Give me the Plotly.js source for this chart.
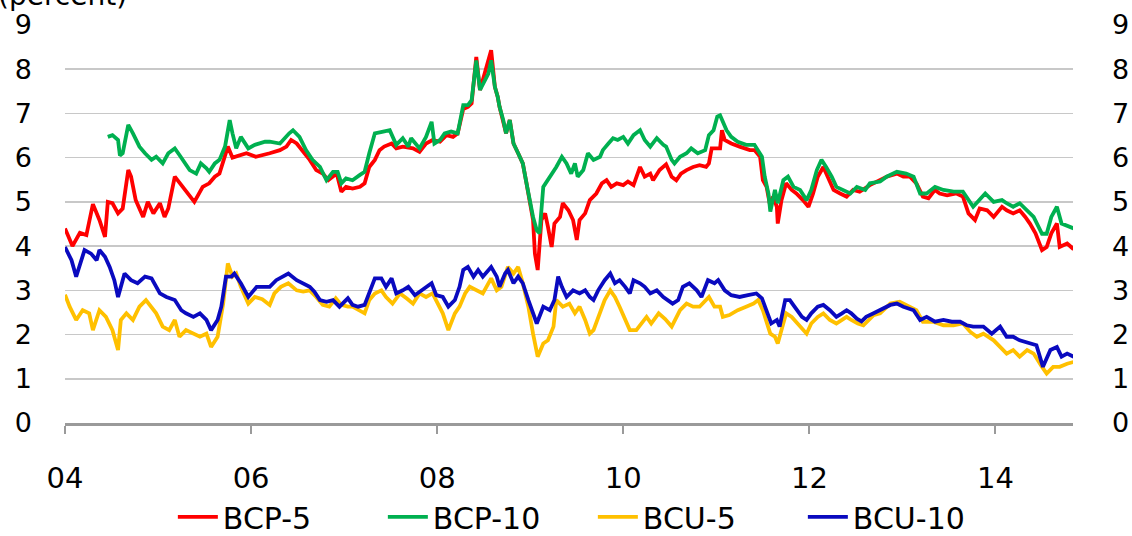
<!DOCTYPE html>
<html>
<head>
<meta charset="utf-8">
<script src="https://cdn.plot.ly/plotly-3.0.1.min.js"></script>
<style>html,body{margin:0;padding:0;background:#fff;overflow:hidden;}#chart{width:1132px;height:560px;}</style>
</head>
<body>
<div id="chart"></div>
<script>
// ---- Data (decimal years, percent) ----
const bcp5T = [2004.00,2004.08,2004.16,2004.23,2004.30,2004.37,2004.43,2004.46,2004.51,2004.57,2004.62,2004.68,2004.71,2004.76,2004.84,2004.89,2004.95,2005.02,2005.07,2005.11,2005.18,2005.27,2005.39,2005.48,2005.55,2005.61,2005.66,2005.75,2005.80,2005.95,2006.05,2006.20,2006.31,2006.38,2006.43,2006.49,2006.56,2006.63,2006.70,2006.77,2006.83,2006.88,2006.92,2006.97,2007.02,2007.09,2007.17,2007.22,2007.27,2007.33,2007.38,2007.43,2007.51,2007.56,2007.63,2007.74,2007.81,2007.88,2007.95,2008.03,2008.10,2008.17,2008.22,2008.28,2008.33,2008.37,2008.40,2008.42,2008.46,2008.51,2008.55,2008.58,2008.62,2008.65,2008.67,2008.71,2008.74,2008.78,2008.82,2008.87,2008.92,2008.96,2008.99,2009.03,2009.05,2009.08,2009.12,2009.16,2009.19,2009.23,2009.26,2009.32,2009.35,2009.41,2009.46,2009.50,2009.53,2009.59,2009.64,2009.71,2009.77,2009.82,2009.87,2009.93,2010.00,2010.05,2010.11,2010.18,2010.23,2010.29,2010.32,2010.39,2010.46,2010.52,2010.57,2010.62,2010.68,2010.75,2010.82,2010.89,2010.92,2010.95,2011.04,2011.06,2011.09,2011.16,2011.25,2011.36,2011.41,2011.47,2011.50,2011.54,2011.58,2011.61,2011.65,2011.66,2011.70,2011.75,2011.81,2011.86,2011.93,2011.99,2012.04,2012.09,2012.15,2012.20,2012.26,2012.33,2012.40,2012.47,2012.54,2012.65,2012.76,2012.83,2012.94,2013.01,2013.08,2013.15,2013.22,2013.28,2013.35,2013.40,2013.48,2013.58,2013.65,2013.71,2013.78,2013.83,2013.91,2013.98,2014.07,2014.12,2014.19,2014.26,2014.32,2014.37,2014.43,2014.50,2014.55,2014.60,2014.66,2014.69,2014.77,2014.84];
const bcp5V = [4.40,4.00,4.30,4.25,4.95,4.59,4.21,5.00,4.97,4.74,4.85,5.72,5.57,5.04,4.66,5.00,4.74,4.97,4.66,4.85,5.57,5.34,5.00,5.34,5.42,5.57,5.64,6.25,6.00,6.10,6.02,6.10,6.17,6.25,6.40,6.32,6.13,5.95,5.72,5.64,5.49,5.57,5.64,5.23,5.34,5.30,5.34,5.42,5.79,5.95,6.17,6.25,6.32,6.21,6.25,6.21,6.13,6.32,6.40,6.36,6.51,6.47,6.55,7.10,7.15,7.23,7.90,8.28,7.53,7.90,8.13,8.43,7.60,7.38,7.15,6.85,6.55,6.85,6.32,6.10,5.87,5.42,5.04,4.59,3.83,3.46,4.59,4.74,4.44,3.98,4.51,4.66,4.97,4.81,4.59,4.14,4.59,4.74,5.04,5.19,5.42,5.49,5.34,5.42,5.38,5.46,5.38,5.79,5.57,5.64,5.49,5.72,5.85,5.57,5.49,5.64,5.72,5.79,5.83,5.79,5.87,6.21,6.21,6.62,6.40,6.32,6.25,6.17,6.17,6.02,5.49,5.34,4.89,5.12,4.89,4.51,5.04,5.42,5.27,5.19,5.04,4.89,5.19,5.57,5.79,5.57,5.27,5.19,5.12,5.27,5.23,5.38,5.49,5.57,5.64,5.57,5.57,5.42,5.12,5.08,5.27,5.19,5.15,5.19,5.12,4.74,4.59,4.85,4.81,4.66,4.89,4.81,4.74,4.81,4.66,4.51,4.29,3.91,3.98,4.29,4.51,3.98,4.06,3.93];

const bcp10T = [2004.46,2004.51,2004.57,2004.59,2004.62,2004.68,2004.73,2004.80,2004.86,2004.93,2004.98,2005.05,2005.11,2005.18,2005.23,2005.29,2005.34,2005.41,2005.46,2005.52,2005.55,2005.61,2005.66,2005.72,2005.77,2005.80,2005.84,2005.89,2005.97,2006.04,2006.15,2006.20,2006.31,2006.41,2006.45,2006.52,2006.59,2006.66,2006.74,2006.81,2006.88,2006.93,2006.97,2007.02,2007.09,2007.17,2007.22,2007.27,2007.33,2007.42,2007.49,2007.56,2007.63,2007.69,2007.72,2007.81,2007.88,2007.94,2007.97,2008.03,2008.08,2008.15,2008.22,2008.28,2008.33,2008.37,2008.40,2008.42,2008.46,2008.51,2008.55,2008.58,2008.62,2008.65,2008.67,2008.71,2008.74,2008.78,2008.82,2008.87,2008.92,2008.96,2008.99,2009.03,2009.07,2009.10,2009.14,2009.19,2009.28,2009.34,2009.39,2009.44,2009.48,2009.51,2009.57,2009.62,2009.68,2009.75,2009.78,2009.84,2009.89,2009.94,2010.00,2010.05,2010.11,2010.18,2010.23,2010.29,2010.36,2010.43,2010.46,2010.52,2010.55,2010.61,2010.68,2010.73,2010.80,2010.88,2010.92,2010.97,2011.01,2011.04,2011.11,2011.16,2011.23,2011.32,2011.41,2011.49,2011.52,2011.56,2011.58,2011.63,2011.66,2011.72,2011.77,2011.83,2011.90,2011.97,2012.02,2012.08,2012.13,2012.18,2012.24,2012.29,2012.36,2012.44,2012.51,2012.60,2012.65,2012.76,2012.83,2012.94,2013.04,2013.12,2013.19,2013.26,2013.35,2013.44,2013.55,2013.65,2013.76,2013.89,2013.98,2014.07,2014.12,2014.19,2014.26,2014.34,2014.41,2014.50,2014.55,2014.60,2014.66,2014.71,2014.78,2014.84];
const bcp10V = [6.47,6.51,6.40,6.05,6.10,6.74,6.55,6.25,6.10,5.95,6.02,5.87,6.10,6.21,6.06,5.87,5.72,5.64,5.87,5.76,5.68,5.87,5.95,6.25,6.85,6.55,6.21,6.47,6.21,6.29,6.36,6.36,6.32,6.55,6.62,6.47,6.17,5.95,5.79,5.49,5.68,5.68,5.42,5.53,5.49,5.61,5.68,6.10,6.55,6.59,6.62,6.29,6.44,6.25,6.44,6.21,6.47,6.81,6.32,6.40,6.55,6.59,6.55,7.19,7.19,7.30,7.90,8.20,7.53,7.75,7.90,8.20,7.60,7.38,7.15,6.85,6.55,6.85,6.32,6.10,5.87,5.42,5.04,4.66,4.36,4.29,5.34,5.49,5.79,6.02,5.87,5.64,5.87,5.57,5.72,6.10,5.95,6.02,6.17,6.32,6.44,6.40,6.47,6.32,6.51,6.62,6.40,6.25,6.44,6.29,6.25,5.95,5.87,6.02,6.10,6.21,6.10,6.17,6.51,6.62,6.93,6.96,6.62,6.47,6.36,6.29,6.29,6.02,5.57,5.19,4.78,5.27,4.97,5.49,5.57,5.34,5.27,5.04,5.27,5.72,5.95,5.79,5.57,5.34,5.27,5.19,5.34,5.27,5.42,5.46,5.57,5.68,5.64,5.57,5.19,5.19,5.34,5.27,5.23,5.23,4.89,5.19,5.00,5.04,4.97,4.89,4.97,4.81,4.66,4.28,4.28,4.66,4.89,4.51,4.44,4.40];

const bcu5T = [2004.00,2004.05,2004.12,2004.19,2004.26,2004.30,2004.37,2004.44,2004.51,2004.57,2004.60,2004.66,2004.73,2004.80,2004.87,2004.98,2005.05,2005.12,2005.18,2005.23,2005.30,2005.38,2005.45,2005.52,2005.57,2005.64,2005.70,2005.75,2005.80,2005.84,2005.89,2005.97,2006.04,2006.12,2006.20,2006.25,2006.32,2006.40,2006.49,2006.56,2006.63,2006.70,2006.77,2006.84,2006.91,2006.97,2007.04,2007.09,2007.17,2007.22,2007.27,2007.33,2007.40,2007.45,2007.52,2007.60,2007.67,2007.74,2007.81,2007.88,2007.95,2008.06,2008.12,2008.19,2008.24,2008.30,2008.35,2008.42,2008.49,2008.58,2008.64,2008.69,2008.76,2008.82,2008.87,2008.92,2008.98,2009.03,2009.08,2009.14,2009.19,2009.25,2009.28,2009.35,2009.42,2009.48,2009.53,2009.59,2009.64,2009.68,2009.75,2009.80,2009.86,2009.91,2009.96,2010.02,2010.07,2010.14,2010.20,2010.25,2010.30,2010.38,2010.45,2010.52,2010.61,2010.68,2010.75,2010.82,2010.92,2010.98,2011.04,2011.07,2011.14,2011.23,2011.32,2011.40,2011.45,2011.50,2011.58,2011.63,2011.66,2011.75,2011.81,2011.90,2011.97,2012.02,2012.09,2012.15,2012.22,2012.29,2012.35,2012.40,2012.45,2012.52,2012.58,2012.69,2012.76,2012.87,2012.97,2013.08,2013.15,2013.22,2013.33,2013.44,2013.55,2013.65,2013.73,2013.80,2013.87,2013.98,2014.05,2014.12,2014.19,2014.26,2014.34,2014.41,2014.50,2014.55,2014.62,2014.69,2014.77,2014.84];
const bcu5V = [2.90,2.63,2.33,2.55,2.48,2.10,2.55,2.40,2.10,1.65,2.33,2.48,2.33,2.63,2.78,2.48,2.18,2.10,2.33,1.95,2.10,2.02,1.95,2.02,1.72,1.95,2.70,3.61,3.31,3.38,3.08,2.70,2.85,2.80,2.67,2.93,3.08,3.16,3.00,2.97,3.00,2.85,2.67,2.63,2.82,2.67,2.63,2.63,2.55,2.48,2.78,2.93,3.00,2.85,2.70,2.93,2.82,2.70,2.93,2.85,2.93,2.48,2.10,2.48,2.63,2.93,3.08,3.00,2.93,3.27,3.00,3.08,3.53,3.38,3.53,3.16,2.63,2.02,1.50,1.80,1.87,2.18,2.78,2.63,2.70,2.48,2.63,2.33,2.02,2.10,2.48,2.78,3.00,2.85,2.63,2.33,2.10,2.10,2.25,2.40,2.25,2.48,2.35,2.18,2.55,2.70,2.63,2.63,2.85,2.63,2.63,2.40,2.44,2.55,2.63,2.70,2.78,2.55,2.02,1.95,1.80,2.48,2.40,2.18,2.02,2.25,2.40,2.48,2.33,2.25,2.33,2.40,2.33,2.25,2.21,2.44,2.48,2.70,2.74,2.63,2.55,2.29,2.29,2.21,2.21,2.25,2.06,1.95,2.02,1.87,1.72,1.57,1.65,1.50,1.65,1.57,1.27,1.12,1.27,1.27,1.34,1.38];

const bcu10T = [2004.00,2004.07,2004.12,2004.21,2004.28,2004.34,2004.37,2004.43,2004.48,2004.53,2004.57,2004.64,2004.71,2004.78,2004.86,2004.93,2005.02,2005.09,2005.18,2005.25,2005.30,2005.38,2005.45,2005.52,2005.57,2005.64,2005.68,2005.73,2005.79,2005.82,2005.89,2005.97,2006.06,2006.15,2006.20,2006.27,2006.34,2006.40,2006.49,2006.56,2006.63,2006.68,2006.74,2006.81,2006.88,2006.95,2007.04,2007.09,2007.15,2007.22,2007.27,2007.33,2007.40,2007.45,2007.51,2007.56,2007.63,2007.69,2007.76,2007.81,2007.88,2007.94,2007.99,2008.06,2008.12,2008.19,2008.24,2008.28,2008.33,2008.39,2008.44,2008.49,2008.58,2008.64,2008.67,2008.73,2008.76,2008.82,2008.87,2008.92,2008.98,2009.03,2009.07,2009.14,2009.21,2009.26,2009.30,2009.34,2009.39,2009.46,2009.53,2009.59,2009.64,2009.68,2009.73,2009.80,2009.86,2009.91,2009.96,2010.02,2010.07,2010.11,2010.18,2010.23,2010.29,2010.36,2010.43,2010.53,2010.59,2010.64,2010.71,2010.79,2010.84,2010.91,2010.98,2011.02,2011.09,2011.16,2011.25,2011.34,2011.43,2011.49,2011.54,2011.59,2011.65,2011.68,2011.74,2011.79,2011.84,2011.92,2011.97,2012.02,2012.09,2012.15,2012.22,2012.29,2012.35,2012.40,2012.45,2012.51,2012.56,2012.61,2012.69,2012.76,2012.87,2012.94,2013.01,2013.12,2013.19,2013.26,2013.35,2013.44,2013.53,2013.62,2013.69,2013.76,2013.87,2013.96,2014.05,2014.12,2014.19,2014.26,2014.34,2014.44,2014.51,2014.59,2014.66,2014.71,2014.77,2014.84];
const bcu10V = [3.98,3.68,3.31,3.91,3.83,3.68,3.91,3.76,3.53,3.23,2.85,3.38,3.23,3.16,3.31,3.27,2.93,2.85,2.78,2.55,2.48,2.40,2.48,2.33,2.10,2.33,2.63,3.31,3.31,3.38,3.16,2.85,3.08,3.08,3.08,3.23,3.31,3.38,3.23,3.16,3.08,2.97,2.78,2.74,2.78,2.63,2.82,2.67,2.63,2.67,2.93,3.27,3.27,3.08,3.27,2.93,3.00,3.08,2.89,2.97,3.08,3.16,2.89,2.85,2.63,2.78,3.08,3.46,3.53,3.31,3.46,3.31,3.53,3.31,3.08,3.38,3.46,3.16,3.31,3.16,2.78,2.48,2.25,2.63,2.55,2.78,3.31,3.08,2.85,3.00,2.93,3.00,2.85,2.78,3.00,3.23,3.38,3.16,3.23,3.08,2.93,3.23,3.16,3.08,2.93,3.00,2.85,2.70,2.78,3.08,3.16,3.00,2.85,3.23,3.16,3.23,3.00,2.89,2.85,2.89,2.93,2.82,2.55,2.25,2.33,2.18,2.78,2.78,2.63,2.40,2.33,2.48,2.63,2.67,2.55,2.40,2.48,2.55,2.48,2.36,2.30,2.40,2.48,2.55,2.67,2.70,2.63,2.55,2.33,2.40,2.29,2.33,2.29,2.29,2.21,2.18,2.18,2.02,2.18,1.95,1.95,1.87,1.83,1.76,1.27,1.65,1.72,1.50,1.57,1.50];

const seriesNames = ['BCP-5','BCP-10','BCU-5','BCU-10'];
const seriesColors = ['#FF0000','#00B050','#FFC000','#0A0ABF'];
const xTickVals = [2004,2006,2008,2010,2012,2014];
const xTickText = ['04','06','08','10','12','14'];
const yTickVals = [0,1,2,3,4,5,6,7,8,9];

const FONT = 'DejaVu Sans, sans-serif';
const xs = [bcp5T, bcp10T, bcu5T, bcu10T];
const ys = [bcp5V, bcp10V, bcu5V, bcu10V];

const traces = seriesNames.map((n,i)=>({
  type:'scatter', mode:'lines', name:n,
  x: xs[i], y: ys[i],
  yaxis: i===3 ? 'y2' : 'y',
  line:{color:seriesColors[i], width:3.8}
}));

// Page is 560px tall but only the top 536px are visible; plot area is y=25..423.
const layout = {
  width:1132, height:560,
  margin:{l:65, r:59, t:25, b:137},
  paper_bgcolor:'#fff', plot_bgcolor:'#fff',
  font:{family:FONT, size:26, color:'#000'},
  showlegend:true,
  legend:{orientation:'h', x:0.107, xanchor:'left', y:-0.236, yanchor:'middle',
          font:{family:FONT, size:30, color:'#000'}, entrywidth:155, itemwidth:40,
          traceorder:'normal', bgcolor:'rgba(0,0,0,0)'},
  xaxis:{range:[2004,2014.833], tickvals:xTickVals, ticktext:xTickText,
         showgrid:false, zeroline:false, showline:true, linecolor:'#9a9a9a', linewidth:3,
         ticks:'outside', ticklen:8, tickwidth:2, tickcolor:'#9a9a9a',
         ticklabelstandoff:19, tickfont:{family:FONT, size:29, color:'#000'}},
  yaxis:{range:[0,9], tickvals:yTickVals, showgrid:true, gridcolor:'#c8c8c8', gridwidth:1.5,
         zeroline:false, showline:false, ticks:'', ticklabelstandoff:32,
         tickfont:{family:FONT, size:27, color:'#000'}},
  yaxis2:{range:[0,9], tickvals:yTickVals, overlaying:'y', side:'right', showgrid:false,
          zeroline:false, showline:false, ticks:'', ticklabelstandoff:38,
          tickfont:{family:FONT, size:27, color:'#000'}},
  annotations:[{text:'(percent)', xref:'paper', yref:'paper', x:-0.068, y:1.075,
                xanchor:'left', yanchor:'middle', showarrow:false,
                font:{family:FONT, size:28, color:'#000'}}]
};

Plotly.newPlot('chart', traces, layout, {staticPlot:true, displayModeBar:false});
</script>
</body>
</html>
